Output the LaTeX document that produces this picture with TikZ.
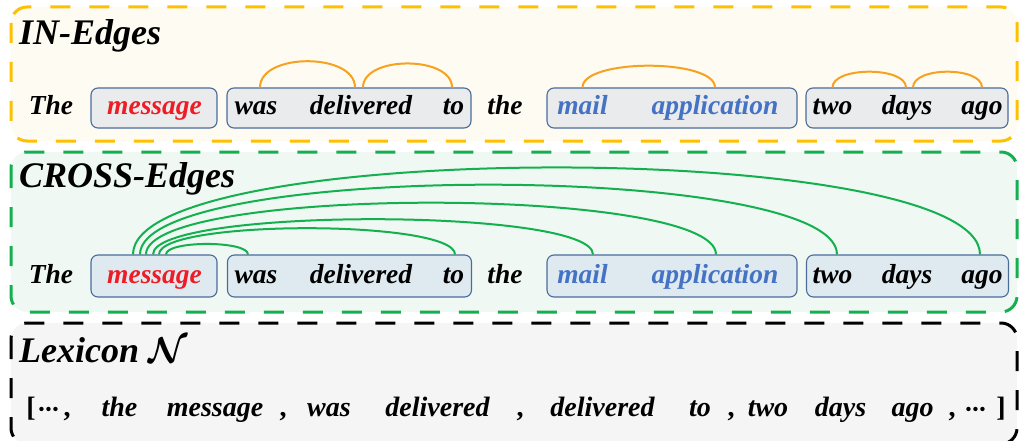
\RequirePackage{fix-cm}
\documentclass[tikz,border=0pt]{standalone}
\usepackage{amsmath,bm}
\usepackage{fontspec}
\setmainfont{Liberation Serif}
\usetikzlibrary{calc}
\definecolor{yframe}{HTML}{FFC000}
\definecolor{yfill}{HTML}{FEFBF2}
\definecolor{gframe}{HTML}{14B050}
\definecolor{gfill}{HTML}{EFF8F2}
\definecolor{kfill}{HTML}{F5F5F5}
\definecolor{boxline}{HTML}{4A6C9B}
\definecolor{boxfillA}{HTML}{E9EBEC}
\definecolor{boxfillB}{HTML}{DFEAF0}
\definecolor{orarc}{HTML}{F6A21E}
\definecolor{msgred}{HTML}{EE1C25}
\definecolor{wblue}{HTML}{4472C4}
\newcommand{\mydots}{$\bm{{\cdot}\mkern-1mu{\cdot}\mkern-1mu{\cdot}}$}
\begin{document}
\begin{tikzpicture}[x=1pt,y=-1pt,
  frame/.style={line width=3pt, dash pattern=on 20pt off 19pt, rounded corners=16pt},
  wbox/.style={draw=boxline, line width=1.1pt, rounded corners=7pt, inner sep=0pt, minimum height=40pt},
  word/.style={font=\fontsize{27.5}{30}\selectfont\bfseries\itshape, inner sep=0pt, anchor=base},
  lex/.style={font=\fontsize{28}{30}\selectfont\bfseries\itshape, inner sep=0pt, anchor=base},
  punct/.style={font=\fontsize{28}{30}\selectfont\bfseries, inner sep=0pt, anchor=base},
  title/.style={font=\fontsize{36}{40}\selectfont\bfseries\itshape, inner sep=0pt, anchor=base west},
  inarc/.style={draw=orarc, line width=2pt},
  crarc/.style={draw=gframe, line width=2pt}]
\useasboundingbox (0,0) rectangle (1019,441);
\clip (0,0) rectangle (1019,441);

% frames
\draw[frame, draw=yframe, fill=yfill] (11,7) rectangle (1017,141);
\draw[frame, draw=gframe, fill=gfill] (11,152) rectangle (1017,312);
\draw[frame, draw=black, fill=kfill] (11,323) rectangle (1017,444);

% titles
\node[title] (t1) at (19,45) {IN-Edges};
\node[title] (t2) at (19,187) {CROSS-Edges};
\node[title] (t3) at (19,362) {Lexicon $\bm{\mathcal{N}}$};

% ---------- row 1 ----------
\node[wbox, fill=boxfillA, minimum width=126pt] (bm1) at (154,108) {};
\node[wbox, fill=boxfillA, minimum width=244pt] (bw1) at (349,108) {};
\node[wbox, fill=boxfillA, minimum width=250pt] (ba1) at (672,108) {};
\node[wbox, fill=boxfillA, minimum width=202pt] (bt1) at (907,108) {};

\node[word] (r1the) at (51,115) {The};
\node[word, text=msgred] (r1msg) at (154.5,115) {message};
\node[word] (r1was) at (256,115) {was};
\node[word] (r1del) at (361,115) {delivered};
\node[word] (r1to) at (453.5,115) {to};
\node[word] (r1the2) at (505,115) {the};
\node[word, text=wblue] (r1mail) at (582.5,115) {mail};
\node[word, text=wblue] (r1app) at (715,115) {application};
\node[word] (r1two) at (832.5,115) {two};
\node[word] (r1days) at (907,115) {days};
\node[word] (r1ago) at (982,115) {ago};

\coordinate (p1) at ($(r1was.center |- bw1.north)+(4,0)$);
\coordinate (p2) at ($(r1del.center |- bw1.north)+(-6,0)$);
\coordinate (p3) at ($(r1del.center |- bw1.north)+(2,0)$);
\coordinate (p4) at ($(r1to.center |- bw1.north)+(-1.5,0)$);
\coordinate (p5) at ($(r1mail.center |- ba1.north)+(0,0)$);
\coordinate (p6) at ($(r1app.center |- ba1.north)+(0,0)$);
\coordinate (p7) at ($(r1two.center |- bt1.north)+(0,0)$);
\coordinate (p8) at ($(r1days.center |- bt1.north)+(-1,0)$);
\coordinate (p9) at ($(r1days.center |- bt1.north)+(6,0)$);
\coordinate (p10) at ($(r1ago.center |- bt1.north)+(0,0)$);

\draw[inarc] (p1) .. controls +(0,-35) and +(0,-35) .. (p2);
\draw[inarc] (p3) .. controls +(0,-32) and +(0,-32) .. (p4);
\draw[inarc] (p5) .. controls +(0,-29) and +(0,-29) .. (p6);
\draw[inarc] (p7) .. controls +(0,-21) and +(0,-21) .. (p8);
\draw[inarc] (p9) .. controls +(0,-21) and +(0,-21) .. (p10);

% ---------- row 2 ----------
\node[wbox, fill=boxfillB, minimum width=126pt, minimum height=42pt] (bm2) at (154,276) {};
\node[wbox, fill=boxfillB, minimum width=244pt, minimum height=42pt] (bw2) at (349.5,276) {};
\node[wbox, fill=boxfillB, minimum width=250pt, minimum height=42pt] (ba2) at (672,276) {};
\node[wbox, fill=boxfillB, minimum width=202pt, minimum height=42pt] (bt2) at (907.5,276) {};

\node[word] (r2the) at (51,283) {The};
\node[word, text=msgred] (r2msg) at (154.5,283) {message};
\node[word] (r2was) at (256,283) {was};
\node[word] (r2del) at (361,283) {delivered};
\node[word] (r2to) at (453.5,283) {to};
\node[word] (r2the2) at (505,283) {the};
\node[word, text=wblue] (r2mail) at (582.5,283) {mail};
\node[word, text=wblue] (r2app) at (715,283) {application};
\node[word] (r2two) at (832.5,283) {two};
\node[word] (r2days) at (907,283) {days};
\node[word] (r2ago) at (982,283) {ago};

\coordinate (s1) at ($(r2msg.center |- bm2.north)+(11.5,0)$);
\coordinate (s2) at ($(r2msg.center |- bm2.north)+(4.5,0)$);
\coordinate (s3) at ($(r2msg.center |- bm2.north)+(-1.5,0)$);
\coordinate (s4) at ($(r2msg.center |- bm2.north)+(-8.5,0)$);
\coordinate (s5) at ($(r2msg.center |- bm2.north)+(-14.5,0)$);
\coordinate (s6) at ($(r2msg.center |- bm2.north)+(-21.5,0)$);
\coordinate (e1) at ($(r2was.center |- bw2.north)+(-8,0)$);
\coordinate (e2) at ($(r2to.center |- bw2.north)+(1.5,0)$);
\coordinate (e3) at ($(r2mail.center |- ba2.north)+(10.5,0)$);
\coordinate (e4) at ($(r2app.center |- ba2.north)+(1,0)$);
\coordinate (e5) at ($(r2two.center |- bt2.north)+(4.5,0)$);
\coordinate (e6) at ($(r2ago.center |- bt2.north)+(-2,0)$);

\draw[crarc] (s1) .. controls +(0,-14) and +(0,-14) .. (e1);
\draw[crarc] (s2) .. controls +(0,-35) and +(0,-35) .. (e2);
\draw[crarc] (s3) .. controls +(0,-47) and +(0,-47) .. (e3);
\draw[crarc] (s4) .. controls +(0,-69) and +(0,-69) .. (e4);
\draw[crarc] (s5) .. controls +(0,-93) and +(0,-93) .. (e5);
\draw[crarc] (s6) .. controls +(0,-116) and +(0,-116) .. (e6);

% ---------- row 3 (lexicon) ----------
\node[punct] (l0) at (31,416) {[};
\node[punct] (l1) at (49,416) {\mydots};
\node[punct] (l2) at (67,416) {,};
\node[lex] (l3) at (119.5,416) {the};
\node[lex] (l4) at (215,416) {message};
\node[punct] (l5) at (283,416) {,};
\node[lex] (l6) at (329,416) {was};
\node[lex] (l7) at (437.5,416) {delivered};
\node[punct] (l8) at (520,416) {,};
\node[lex] (l9) at (602.5,416) {delivered};
\node[lex] (l10) at (700,416) {to};
\node[punct] (l11) at (731,416) {,};
\node[lex] (l12) at (768,416) {two};
\node[lex] (l13) at (840.5,416) {days};
\node[lex] (l14) at (912.5,416) {ago};
\node[punct] (l15) at (952,416) {,};
\node[punct] (l16) at (976,416) {\mydots};
\node[punct] (l17) at (1001,416) {]};
\end{tikzpicture}
\end{document}
